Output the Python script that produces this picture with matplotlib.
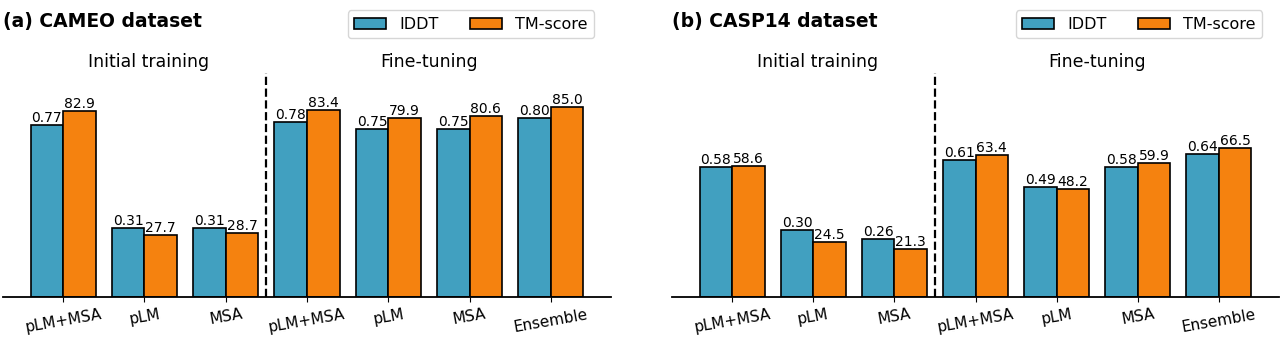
import numpy as np
import matplotlib.pyplot as plt

# model variants, first three from initial training, last four after fine-tuning
methods = ['pLM+MSA', 'pLM', 'MSA', 'pLM+MSA', 'pLM', 'MSA', 'Ensemble']

cameo_lddt = [0.77, 0.31, 0.31, 0.78, 0.75, 0.75, 0.80]
cameo_tm = [82.9, 27.7, 28.7, 83.4, 79.9, 80.6, 85.0]

casp14_lddt = [0.58, 0.30, 0.26, 0.61, 0.49, 0.58, 0.64]
casp14_tm = [58.6, 24.5, 21.3, 63.4, 48.2, 59.9, 66.5]

blue = '#41a0c0'
orange = '#f5820f'
w = 0.4

fig = plt.figure(figsize=(12.8, 3.41), dpi=100)
ax1 = fig.add_axes([3 / 1280, 44 / 341, 608 / 1280, 224 / 341])
ax2 = fig.add_axes([672 / 1280, 44 / 341, 607 / 1280, 224 / 341])

panels = [(ax1, '(a) CAMEO dataset', cameo_lddt, cameo_tm),
          (ax2, '(b) CASP14 dataset', casp14_lddt, casp14_tm)]

for ax, title, lddt, tm in panels:
    x = np.arange(len(methods))
    lddt = np.array(lddt)
    b1 = ax.bar(x - w / 2, lddt * 100, w, color=blue, edgecolor='black',
                linewidth=1.2)
    b2 = ax.bar(x + w / 2, tm, w, color=orange, edgecolor='black',
                linewidth=1.2)
    ax.bar_label(b1, labels=['%.2f' % v for v in lddt], fontsize=10, padding=0)
    ax.bar_label(b2, labels=['%.1f' % v for v in tm], fontsize=10, padding=0)

    ax.set_ylim(0, 100)
    ax.axvline(2.5, color='black', linestyle='--', linewidth=1.6)
    ax.text(1.05, 105, 'Initial training', ha='center', va='center', fontsize=12.5)
    ax.text(4.5, 105, 'Fine-tuning', ha='center', va='center', fontsize=12.5)

    ax.set_xticks(x)
    ax.set_xticklabels(methods, rotation=10, fontsize=11)
    ax.set_yticks([])
    for s in ['left', 'right', 'top']:
        ax.spines[s].set_visible(False)
    ax.spines['bottom'].set_linewidth(1.3)

    ax.text(0, 1.23, title, transform=ax.transAxes, ha='left', va='center',
            fontsize=13.5, fontweight='bold')
    ax.legend([b1, b2], ['IDDT', 'TM-score'], ncol=2, fontsize=11.5,
              loc='upper right', bbox_to_anchor=(0.985, 1.315), handleheight=0.7)

plt.savefig('out.png', dpi=100)
